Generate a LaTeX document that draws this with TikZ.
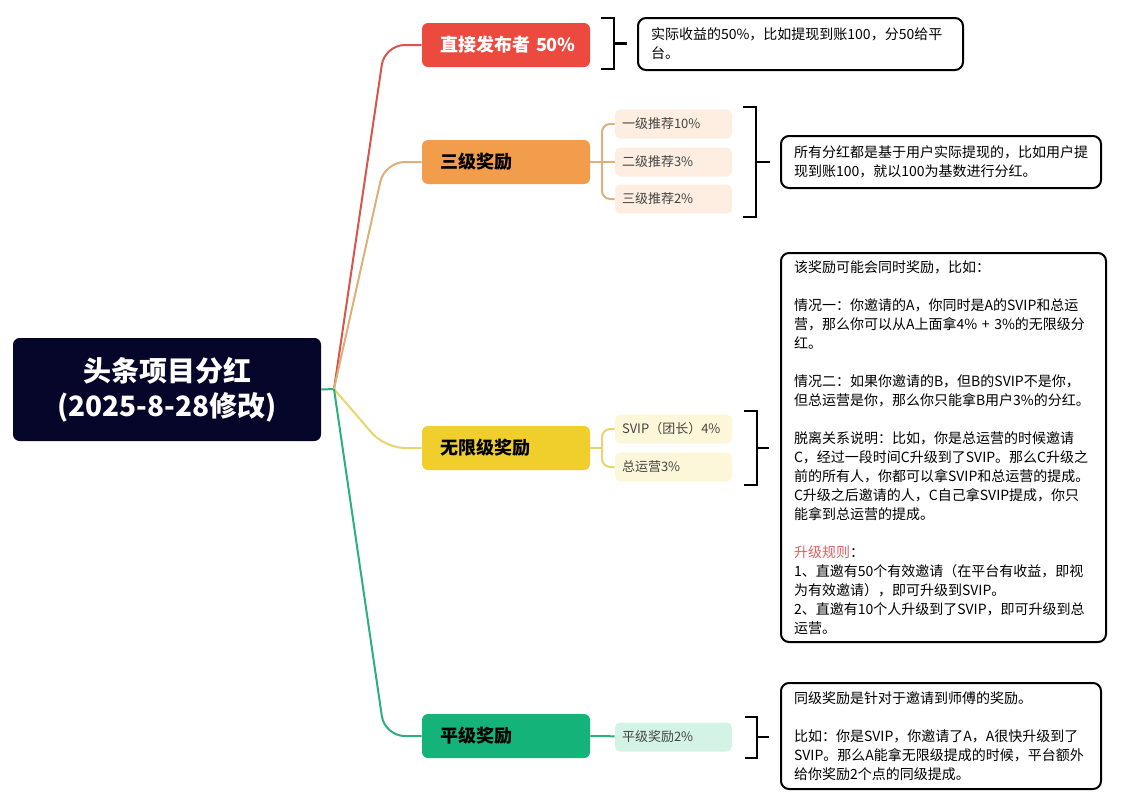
\documentclass[tikz,border=0pt]{standalone}
\usepackage{fontspec}
\setmainfont{Noto Sans CJK SC}

\definecolor{rootbg}{HTML}{06062A}
\definecolor{redbox}{HTML}{EC4A3F}
\definecolor{orangebox}{HTML}{F29D4C}
\definecolor{yellowbox}{HTML}{F0CF2C}
\definecolor{greenbox}{HTML}{14B37A}
\definecolor{redline}{HTML}{D9544D}
\definecolor{orangeline}{HTML}{DDB07A}
\definecolor{yellowline}{HTML}{E7D56E}
\definecolor{greenline}{HTML}{2DAE7E}
\definecolor{peach}{HTML}{FDEEE1}
\definecolor{cream}{HTML}{FDF7D9}
\definecolor{mint}{HTML}{D4F3E7}
\definecolor{subtext}{HTML}{444444}
\definecolor{rulered}{HTML}{E06060}

\tikzset{
  rootbox/.style={fill=rootbg, text=white, rounded corners=5pt, minimum width=231pt,
    minimum height=77.25pt, align=center, font=\fontsize{21}{26}\selectfont\bfseries},
  box/.style={rounded corners=4.5pt, minimum height=33pt, inner xsep=13.5pt, text width=99pt,
    align=left, font=\fontsize{13.5}{16}\selectfont\bfseries},
  subbox/.style={rounded corners=4pt, minimum height=21.75pt, inner xsep=5.25pt, text width=77.25pt,
    align=left, text=subtext, font=\fontsize{9.75}{12}\selectfont},
  note/.style={draw=black, line width=1.5pt, rounded corners=6pt, inner xsep=9.75pt, anchor=west,
    align=left, font=\fontsize{10.5}{14.25}\selectfont},
  link/.style={line width=1.5pt, rounded corners=15pt},
  sublink/.style={line width=1.5pt, rounded corners=6pt},
  brace/.style={line width=1.8pt},
}

\begin{document}
\begin{tikzpicture}[x=0.75pt,y=-0.75pt]

  \fill[white] (0,0) rectangle (1138,810);
  \useasboundingbox (0,0) rectangle (1138,810);

  % root
  \node[rootbox] (root) at (167,389.5) {头条项目分红\\(2025-8-28修改)};
  \coordinate (fork) at (334,389);

  % branches
  \begin{scope}[every node/.style={box}]
    \node[fill=redbox, text=white] (b1) at (506,45)  {\mbox{直接发布者 50\%}};
    \node[fill=orangebox]          (b2) at (506,162) {三级奖励};
    \node[fill=yellowbox]          (b3) at (506,448) {无限级奖励};
    \node[fill=greenbox]           (b4) at (506,736) {平级奖励};
  \end{scope}

  \draw[greenline, line width=1.5pt] (root.east) -- (fork);
  \draw[link, redline]    (fork) -- ([xshift=-27.75pt]b1.west) -- (b1.west);
  \draw[link, orangeline] (fork) -- ([xshift=-27.75pt]b2.west) -- (b2.west);
  \draw[link, yellowline] (fork) -- ([xshift=-27.75pt]b3.west) -- (b3.west);
  \draw[link, greenline]  (fork) -- ([xshift=-27.75pt]b4.west) -- (b4.west);

  % sub items
  \begin{scope}[every node/.style={subbox}]
    \node[fill=peach] (s11) at (673.5,124) {一级推荐10\%};
    \node[fill=peach] (s12) at (673.5,162) {二级推荐3\%};
    \node[fill=peach] (s13) at (673.5,199) {三级推荐2\%};
    \node[fill=cream] (s31) at (673.5,429) {SVIP（团长）4\%};
    \node[fill=cream] (s32) at (673.5,467) {总运营3\%};
    \node[fill=mint]  (s41) at (673.5,737) {平级奖励2\%};
  \end{scope}

  \coordinate (f2) at (602,162);
  \coordinate (f3) at (602,448);
  \draw[sublink, orangeline] (b2.east) -- (f2);
  \draw[sublink, orangeline] (f2) |- (s11);
  \draw[sublink, orangeline] (f2) -- (s12);
  \draw[sublink, orangeline] (f2) |- (s13);
  \draw[sublink, yellowline] (b3.east) -- (f3);
  \draw[sublink, yellowline] (f3) |- (s31);
  \draw[sublink, yellowline] (f3) |- (s32);
  \draw[sublink, greenline]  (b4.east) -- (s41);

  % notes
  \node[note, minimum width=243.75pt, minimum height=39pt, text width=224.25pt] (n1) at (637,44)
    {实际收益的50\%，比如提现到账100，分50给平\\台。};
  \node[note, minimum width=240pt, minimum height=39pt, text width=220.5pt] (n2) at (780,162)
    {所有分红都是基于用户实际提现的，比如用户提\\现到账100，就以100为基数进行分红。};
  \node[note, minimum width=243.75pt, minimum height=291.75pt, text width=224.25pt] (n3) at (780,447.5)
    {该奖励可能会同时奖励，比如：\\[14.25pt]
     情况一：你邀请的A，你同时是A的SVIP和总运\\营，那么你可以从A上面拿4\% + 3\%的无限级分\\红。\\[14.25pt]
     情况二：如果你邀请的B，但B的SVIP不是你，\\但总运营是你，那么你只能拿B用户3\%的分红。\\[14.25pt]
     脱离关系说明：比如，你是总运营的时候邀请\\C，经过一段时间C升级到了SVIP。那么C升级之\\前的所有人，你都可以拿SVIP和总运营的提成。\\C升级之后邀请的人，C自己拿SVIP提成，你只\\能拿到总运营的提成。\\[14.25pt]
     {\color{rulered}升级规则}：\\1、直邀有50个有效邀请（在平台有收益，即视\\为有效邀请），即可升级到SVIP。\\2、直邀有10个人升级到了SVIP，即可升级到总\\运营。};
  \node[note, minimum width=240pt, minimum height=79.5pt, text width=220.5pt] (n4) at (780,736)
    {同级奖励是针对于邀请到师傅的奖励。\\[14.25pt]
     比如：你是SVIP，你邀请了A，A很快升级到了\\SVIP。那么A能拿无限级提成的时候，平台额外\\给你奖励2个点的同级提成。};

  % brackets
  \coordinate (k1) at (614,43.5);
  \coordinate (k2) at (756,162);
  \coordinate (k3) at (757,448);
  \coordinate (k4) at (757,737);
  \draw[brace] (601,18) -- (614,18) -- (614,69) -- (601,69);
  \draw[brace] (k1) -- ++(13,0);
  \draw[brace] (743,107) -- (756,107) -- (756,217) -- (743,217);
  \draw[brace] (k2) -- ++(14,0);
  \draw[brace] (744,411) -- (757,411) -- (757,485) -- (744,485);
  \draw[brace] (k3) -- ++(12,0);
  \draw[brace] (745,717) -- (757,717) -- (757,758) -- (745,758);
  \draw[brace] (k4) -- ++(12,0);

\end{tikzpicture}
\end{document}
